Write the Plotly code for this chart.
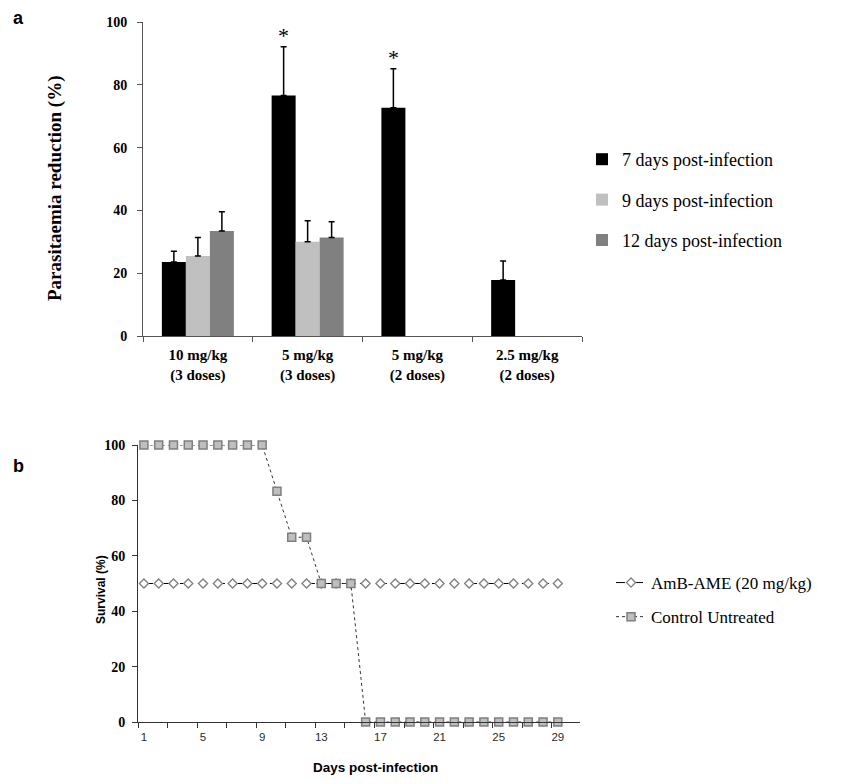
import plotly.graph_objects as go

# ---------------- data: panel a ----------------
groups = ["10 mg/kg<br>(3 doses)", "5 mg/kg<br>(3 doses)", "5 mg/kg<br>(2 doses)", "2.5 mg/kg<br>(2 doses)"]
day7_mean = [23.6, 76.6, 72.7, 17.8]
day7_err = [3.4, 15.5, 12.4, 6.1]
day9_mean = [25.5, 30.0, None, None]
day9_err = [5.9, 6.7, 0, 0]
day12_mean = [33.4, 31.4, None, None]
day12_err = [6.2, 5.0, 0, 0]
series_names = ["7 days post-infection", "9 days post-infection", "12 days post-infection"]

# ---------------- data: panel b ----------------
days = [1, 2, 3, 4, 5, 6, 7, 8, 9, 10, 11, 12, 13, 14, 15, 16, 17, 18, 19, 20,
        21, 22, 23, 24, 25, 26, 27, 28, 29]
amb_ame = [50, 50, 50, 50, 50, 50, 50, 50, 50, 50, 50, 50, 50, 50, 50, 50, 50, 50, 50, 50,
           50, 50, 50, 50, 50, 50, 50, 50, 50]
control = [100, 100, 100, 100, 100, 100, 100, 100, 100, 83.3, 66.7, 66.7, 50, 50, 50, 0, 0, 0, 0, 0,
           0, 0, 0, 0, 0, 0, 0, 0, 0]
day_ticks = [1, 5, 9, 13, 17, 21, 25, 29]

SERIF = "Liberation Serif, Times New Roman, serif"
SANS = "Liberation Sans, Arial, sans-serif"
PAGE_MARGIN = 8          # default <body> margin of the written html page
W, H = 850 - 2 * PAGE_MARGIN, 784 - 2 * PAGE_MARGIN

def px_x(p):
    return (p - PAGE_MARGIN) / W

def px_y(p):
    return 1 - (p - PAGE_MARGIN) / H

fig = go.Figure()

bar_colors = ["#000000", "#c0c0c0", "#808080"]
for name, mean, err, col in zip(series_names, [day7_mean, day9_mean, day12_mean],
                                [day7_err, day9_err, day12_err], bar_colors):
    fig.add_trace(go.Bar(
        x=groups, y=mean, name=name, marker=dict(color=col, line=dict(width=0)),
        error_y=dict(type="data", array=err, symmetric=False, arrayminus=[0] * len(err),
                     color="#000000", thickness=1.5, width=3),
        xaxis="x", yaxis="y", legend="legend", legendgroup=name,
    ))

fig.add_trace(go.Scatter(
    x=days, y=amb_ame, name="AmB-AME (20 mg/kg)", mode="lines+markers", cliponaxis=False,
    line=dict(color="#000000", width=1, dash="dash"),
    marker=dict(symbol="diamond", size=7, color="#ffffff", line=dict(color="#7f7f7f", width=1.3)),
    xaxis="x2", yaxis="y2", legend="legend2", legendgroup="amb",
))
fig.add_trace(go.Scatter(
    x=days, y=control, name="Control Untreated", mode="lines+markers", cliponaxis=False,
    line=dict(color="#333333", width=1, dash="dot"),
    marker=dict(symbol="square", size=8, color="#bfbfbf", line=dict(color="#7f7f7f", width=1.5)),
    xaxis="x2", yaxis="y2", legend="legend2", legendgroup="ctrl",
))

annotations = [
    dict(text="a", x=px_x(11), y=px_y(18), xref="paper", yref="paper", showarrow=False,
         xanchor="left", yanchor="middle", font=dict(family=SANS, size=18, weight="bold", color="#000")),
    dict(text="b", x=px_x(11), y=px_y(466), xref="paper", yref="paper", showarrow=False,
         xanchor="left", yanchor="middle", font=dict(family=SANS, size=18, weight="bold", color="#000")),
    dict(text="Parasitaemia reduction (%)", x=px_x(55), y=px_y(188), xref="paper", yref="paper",
         showarrow=False, textangle=-90, xanchor="center", yanchor="middle",
         font=dict(family=SERIF, size=19, weight="bold", color="#000")),
    dict(text="Survival (%)", x=px_x(101), y=px_y(590), xref="paper", yref="paper",
         showarrow=False, textangle=-90, xanchor="center", yanchor="middle",
         font=dict(family=SANS, size=12, weight="bold", color="#000")),
    dict(text="Days post-infection", x=px_x(375), y=px_y(767), xref="paper", yref="paper",
         showarrow=False, xanchor="center", yanchor="middle",
         font=dict(family=SANS, size=13.5, weight="bold", color="#000")),
    # significance markers above the 7-day bars
    dict(text="*", x=groups[1], y=day7_mean[1] + day7_err[1], xref="x", yref="y", xshift=-24,
         yshift=-3, yanchor="bottom", showarrow=False, font=dict(family=SERIF, size=22, color="#000")),
    dict(text="*", x=groups[2], y=day7_mean[2] + day7_err[2], xref="x", yref="y", xshift=-24,
         yshift=-3, yanchor="bottom", showarrow=False, font=dict(family=SERIF, size=22, color="#000")),
]

fig.update_layout(
    width=W, height=H,
    margin=dict(l=0, r=0, t=0, b=0, autoexpand=False),
    paper_bgcolor="#ffffff", plot_bgcolor="#ffffff",
    font=dict(family=SERIF, color="#000"),
    barmode="group", bargap=0.344, bargroupgap=0,
    showlegend=True,
    xaxis=dict(domain=[px_x(143), px_x(582)], anchor="y", type="category", automargin=False,
               showline=True, linecolor="#555555", linewidth=1,
               ticks="outside", tickson="boundaries", ticklen=5, tickcolor="#555555",
               ticklabelstandoff=5,
               tickfont=dict(family=SERIF, size=15, weight="bold", color="#000"),
               showgrid=False, zeroline=False),
    yaxis=dict(domain=[px_y(336), px_y(22)], anchor="x", range=[0, 100], automargin=False,
               tickvals=[0, 20, 40, 60, 80, 100],
               showline=True, linecolor="#555555", linewidth=1,
               ticks="outside", ticklen=5, tickcolor="#555555", ticklabelstandoff=7,
               tickfont=dict(family=SERIF, size=14, weight="bold", color="#000"),
               showgrid=False, zeroline=False),
    xaxis2=dict(domain=[px_x(138), px_x(580)], anchor="y2", range=[0.6, 30.5], automargin=False,
                tickvals=day_ticks, ticks="", showline=True, linecolor="#333333", linewidth=1,
                minor=dict(ticks="outside", tick0=0.6, dtick=2, ticklen=5, tickcolor="#333333",
                           showgrid=False),
                ticklabelstandoff=4,
                tickfont=dict(family=SANS, size=11.5, color="#2b2b2b"),
                showgrid=False, zeroline=False),
    yaxis2=dict(domain=[px_y(722), px_y(445)], anchor="x2", range=[0, 100], automargin=False,
                tickvals=[0, 20, 40, 60, 80, 100],
                showline=True, linecolor="#333333", linewidth=1,
                ticks="outside", ticklen=5, tickcolor="#333333", ticklabelstandoff=4,
                tickfont=dict(family=SERIF, size=14, weight="bold", color="#000"),
                showgrid=False, zeroline=False),
    legend=dict(x=px_x(582), y=px_y(141), xanchor="left", yanchor="top",
                traceorder="grouped", tracegroupgap=14,
                font=dict(family=SERIF, size=18, color="#000"), bgcolor="rgba(0,0,0,0)"),
    legend2=dict(x=px_x(611), y=px_y(565), xanchor="left", yanchor="top",
                 traceorder="grouped", tracegroupgap=9,
                 font=dict(family=SERIF, size=17, color="#000"), bgcolor="rgba(0,0,0,0)"),
    annotations=annotations,
)

fig.write_html("out.html")
